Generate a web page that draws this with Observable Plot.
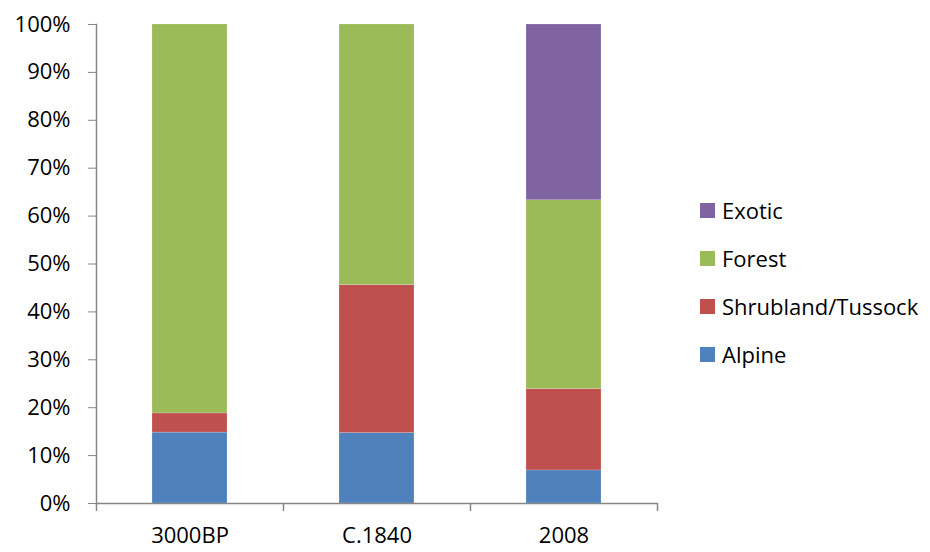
<!DOCTYPE html>
<html>
<head>
<meta charset="utf-8">
<script src="https://cdn.jsdelivr.net/npm/d3@7"></script>
<script src="https://cdn.jsdelivr.net/npm/@observablehq/plot@0.6"></script>
<style>
  html, body { margin: 0; padding: 0; background: #fff; }
  #wrap { position: relative; width: 930px; height: 552px; font-family: "Open Sans", Lato, sans-serif; }
  #legend { position: absolute; left: 700px; top: 198px; }
  .item { display: flex; align-items: center; height: 24px; margin-bottom: 24px; font-size: 22px; color: #000; }
  .sw { width: 15px; height: 15px; margin-right: 7px; }
</style>
</head>
<body>
<div id="wrap"></div>
<script>
const periods = ["3000BP", "C.1840", "2008"];
const seriesNames = ["Alpine", "Shrubland/Tussock", "Forest", "Exotic"];
const seriesColors = ["#4F81BD", "#C0504D", "#9BBB59", "#8064A2"];
const alpine = [14.8, 14.7, 6.9];
const shrubland = [4.0, 30.9, 17.0];
const forest = [81.2, 54.4, 39.4];
const exotic = [0, 0, 36.7];
const yTicks = [0, 10, 20, 30, 40, 50, 60, 70, 80, 90, 100];

const seriesValues = [alpine, shrubland, forest, exotic];
const data = [];
seriesNames.forEach((s, si) => periods.forEach((p, pi) => data.push({period: p, series: s, value: seriesValues[si][pi]})));

const W = 930, H = 552, mL = 96, mR = 273, mT = 24, mB = 49;
const pIn = 0.6, pOut = 0.3;
const step = (W - mL - mR) / (periods.length - pIn + 2 * pOut);
const gray = "#868686";

const chart = Plot.plot({
  width: W, height: H,
  marginLeft: mL, marginRight: mR, marginTop: mT, marginBottom: mB,
  style: {fontFamily: "'Open Sans', Lato, sans-serif", fontSize: "22px", color: "#000", background: "#fff"},
  x: {domain: periods, paddingInner: pIn, paddingOuter: pOut, label: null},
  y: {domain: [0, 100], label: null},
  color: {domain: seriesNames, range: seriesColors},
  marks: [
    Plot.barY(data, {x: "period", y: "value", fill: "series", order: seriesNames, stroke: "#fff", strokeOpacity: 0.35, strokeWidth: 0.5}),
    Plot.axisY({ticks: yTicks, tickSize: 8, tickPadding: 18, tickFormat: d => d + "%", stroke: gray, label: null, fontSize: 22}),
    Plot.axisX({tickSize: 0, tickPadding: 24, label: null, fontSize: 22}),
    Plot.ruleX(periods, {x: d => d, y1: 0, y2: 0, insetBottom: -8, dx: -step / 2, stroke: gray, strokeWidth: 1.5}),
    Plot.ruleX(periods.slice(-1), {x: d => d, y1: 0, y2: 0, insetBottom: -8, dx: step / 2, stroke: gray, strokeWidth: 1.5}),
    Plot.ruleY([0], {stroke: gray, strokeWidth: 1.5}),
    Plot.frame({anchor: "left", stroke: gray, strokeWidth: 1.5})
  ]
});

const wrap = document.getElementById("wrap");
wrap.appendChild(chart);
const legend = document.createElement("div");
legend.id = "legend";
[...seriesNames].reverse().forEach(s => {
  const it = document.createElement("div");
  it.className = "item";
  const sw = document.createElement("div");
  sw.className = "sw";
  sw.style.background = seriesColors[seriesNames.indexOf(s)];
  it.appendChild(sw);
  const t = document.createElement("span");
  t.textContent = s;
  it.appendChild(t);
  legend.appendChild(it);
});
wrap.appendChild(legend);
</script>
</body>
</html>
